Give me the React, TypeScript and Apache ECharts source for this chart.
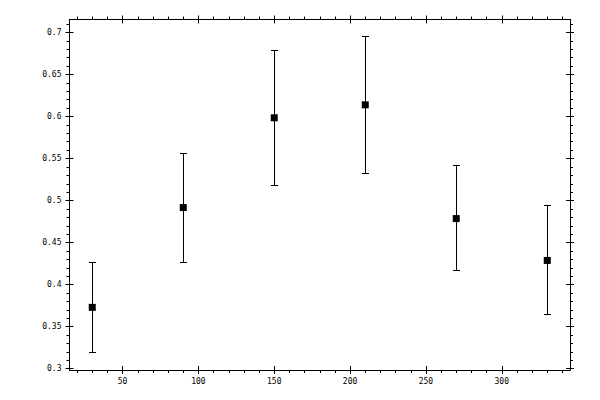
import React, { useEffect, useRef } from "react";
import * as echarts from "echarts";

// angles (x) and measured values with their error bars
const xValues = [30, 90, 150, 210, 270, 330];
const means = [0.373, 0.4917, 0.5985, 0.6139, 0.4786, 0.4288];
const lowers = [0.3189, 0.4265, 0.5178, 0.532, 0.4173, 0.365];
const uppers = [0.4265, 0.5558, 0.679, 0.6957, 0.5415, 0.494];

// axis ranges and tick positions
const xRange = [15, 345];
const yRange = [0.2985, 0.7154];
const xMajorTicks = [50, 100, 150, 200, 250, 300];
const xMinorTicks = [
  20, 30, 40, 50, 60, 70, 80, 90, 100, 110, 120, 130, 140, 150, 160, 170, 180,
  190, 200, 210, 220, 230, 240, 250, 260, 270, 280, 290, 300, 310, 320, 330, 340,
];
const yMajorTicks = [0.3, 0.35, 0.4, 0.45, 0.5, 0.55, 0.6, 0.65, 0.7];
const yMinorTicks = [
  0.3, 0.31, 0.32, 0.33, 0.34, 0.35, 0.36, 0.37, 0.38, 0.39, 0.4, 0.41, 0.42,
  0.43, 0.44, 0.45, 0.46, 0.47, 0.48, 0.49, 0.5, 0.51, 0.52, 0.53, 0.54, 0.55,
  0.56, 0.57, 0.58, 0.59, 0.6, 0.61, 0.62, 0.63, 0.64, 0.65, 0.66, 0.67, 0.68,
  0.69, 0.7, 0.71,
];

const labelFont = {
  fontFamily: "DejaVu Sans Mono",
  fontSize: 8,
  color: "#000",
};

// snap to the pixel centre so 1px lines stay crisp
const snap = (v: number) => Math.round(v - 0.5) + 0.5;

const App = () => {
  const chartRef = useRef<HTMLDivElement>(null);

  useEffect(() => {
    const chart = echarts.init(chartRef.current, null, { renderer: "svg" });

    const gridBox = { left: 69.5, right: 30, top: 19.5, bottom: 30 };
    // three identical grids: minor ticks, outer major ticks (with labels), inner major ticks
    const grids = [0, 1, 2].map(() => ({ ...gridBox }));

    const line = { show: true, lineStyle: { color: "#000", width: 1 } };
    const noLine = { show: false };

    const makeX = (
      gridIndex: number,
      position: string,
      ticks: number[],
      length: number,
      inside: boolean,
      labels: boolean,
    ) => ({
      type: "value",
      gridIndex,
      position,
      min: xRange[0],
      max: xRange[1],
      axisLine: gridIndex === 0 ? line : noLine,
      splitLine: { show: false },
      axisTick: {
        show: true,
        inside,
        length,
        customValues: ticks,
        lineStyle: { color: "#000", width: 1 },
      },
      axisLabel: labels
        ? { show: true, margin: 7, customValues: xMajorTicks, ...labelFont }
        : { show: false },
    });

    const makeY = (
      gridIndex: number,
      position: string,
      ticks: number[],
      length: number,
      inside: boolean,
      labels: boolean,
    ) => ({
      type: "value",
      gridIndex,
      position,
      min: yRange[0],
      max: yRange[1],
      axisLine: gridIndex === 0 ? line : noLine,
      splitLine: { show: false },
      axisTick: {
        show: true,
        inside,
        length,
        customValues: ticks,
        lineStyle: { color: "#000", width: 1 },
      },
      axisLabel: labels
        ? {
            show: true,
            margin: 8,
            customValues: yMajorTicks,
            formatter: (v: number) => String(v),
            ...labelFont,
          }
        : { show: false },
    });

    const xAxis = [
      makeX(0, "bottom", xMinorTicks, 3, false, false),
      makeX(0, "top", xMinorTicks, 3, false, false),
      makeX(1, "bottom", xMajorTicks, 4, false, true),
      makeX(1, "top", xMajorTicks, 4, false, false),
      makeX(2, "bottom", xMajorTicks, 4, true, false),
      makeX(2, "top", xMajorTicks, 4, true, false),
    ];
    const yAxis = [
      makeY(0, "left", yMinorTicks, 3, false, false),
      makeY(0, "right", yMinorTicks, 3, false, false),
      makeY(1, "left", yMajorTicks, 4, false, true),
      makeY(1, "right", yMajorTicks, 4, false, false),
      makeY(2, "left", yMajorTicks, 4, true, false),
      makeY(2, "right", yMajorTicks, 4, true, false),
    ];

    const errorData = xValues.map((x, i) => [x, lowers[i], uppers[i]]);
    const pointData = xValues.map((x, i) => [x, means[i]]);

    chart.setOption({
      animation: false,
      grid: grids,
      xAxis,
      yAxis,
      series: [
        {
          type: "custom",
          xAxisIndex: 0,
          yAxisIndex: 0,
          encode: { x: 0, y: [1, 2] },
          data: errorData,
          renderItem: (params: any, api: any) => {
            const x = api.value(0);
            const lo = api.coord([x, api.value(1)]);
            const hi = api.coord([x, api.value(2)]);
            const cx = snap(hi[0]);
            const yHi = snap(hi[1]);
            const yLo = snap(lo[1]);
            const cap = 3;
            const style = { stroke: "#000", lineWidth: 1 };
            return {
              type: "group",
              children: [
                { type: "line", shape: { x1: cx, y1: yHi, x2: cx, y2: yLo }, style },
                { type: "line", shape: { x1: cx - cap - 0.5, y1: yHi, x2: cx + cap + 0.5, y2: yHi }, style },
                { type: "line", shape: { x1: cx - cap - 0.5, y1: yLo, x2: cx + cap + 0.5, y2: yLo }, style },
              ],
            };
          },
          z: 2,
        },
        {
          type: "scatter",
          xAxisIndex: 0,
          yAxisIndex: 0,
          symbol: "rect",
          symbolSize: 7,
          itemStyle: { color: "#000", opacity: 1 },
          data: pointData,
          z: 3,
        },
      ],
    });

    return () => chart.dispose();
  }, []);

  return (
    <div
      ref={chartRef}
      style={{
        position: "fixed",
        left: 0,
        top: 0,
        width: "600px",
        height: "400px",
        background: "#fff",
      }}
    />
  );
};

export default App;
